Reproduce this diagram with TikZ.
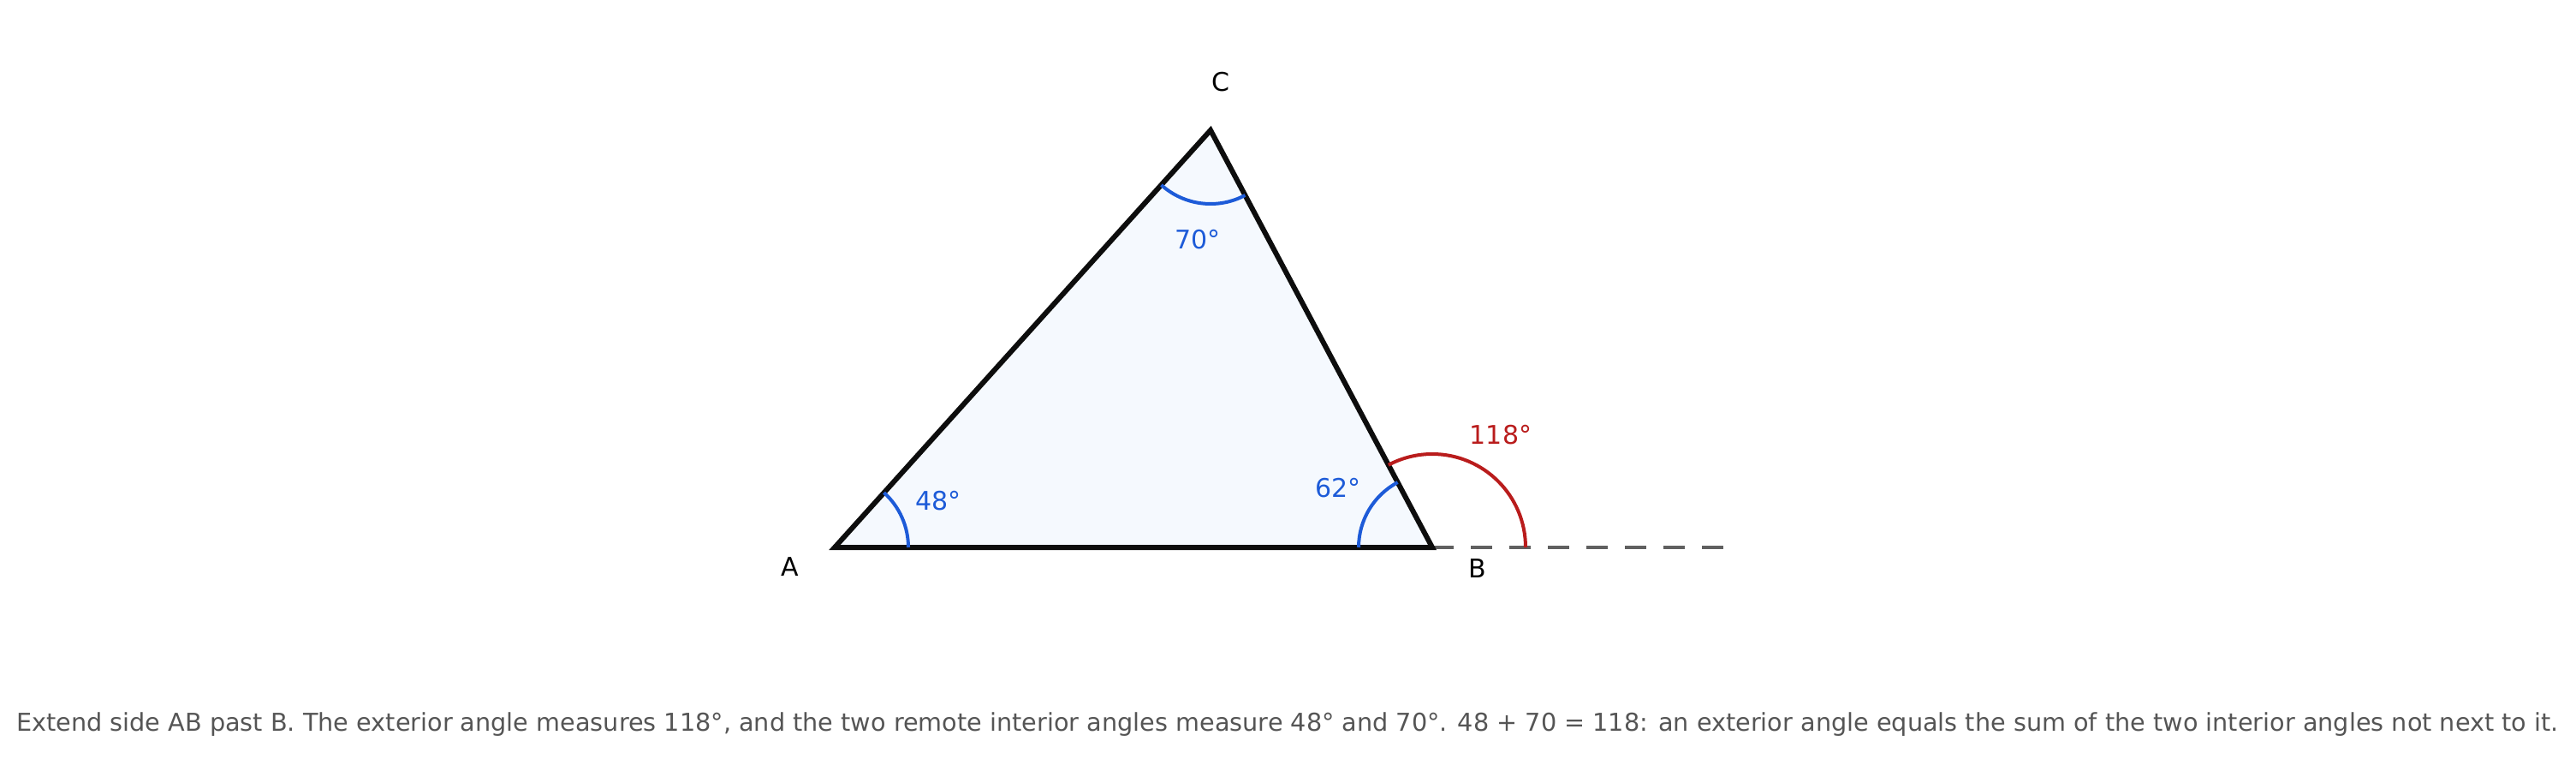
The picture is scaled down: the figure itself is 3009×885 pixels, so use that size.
\documentclass[tikz,border=0pt]{standalone}
\usepackage{fontspec}
\setmainfont{DejaVu Sans}
\definecolor{angblue}{HTML}{1D5BD8}
\definecolor{extred}{HTML}{B91C1C}
\definecolor{trifill}{HTML}{F5F9FE}
\definecolor{capgray}{HTML}{555555}
\definecolor{dashgray}{HTML}{606060}
\begin{document}
\begin{tikzpicture}[line cap=butt, line join=miter, x=0.5pt, y=0.5pt]

                \useasboundingbox (0,0) rectangle (3009,885);

                \coordinate (A) at (975,246);
                \coordinate (B) at (1673,246);
                \coordinate (C) at (1414,733);
                \coordinate (E) at (2015,246);

                \fill[trifill] (A) -- (B) -- (C) -- cycle;
                \draw[dashgray, line width=2pt, dash pattern=on 12.5pt off 10pt] (B) -- (E);
                \draw[black!95, line width=3pt] (A) -- (B) -- (C) -- cycle;

                \draw[angblue, line width=2pt] ([shift={(0:86)}]A) arc[start angle=0, end angle=48, radius=86];
                \draw[angblue, line width=2pt] ([shift={(228:86)}]C) arc[start angle=228, end angle=298, radius=86];
                \draw[angblue, line width=2pt] ([shift={(118:86)}]B) arc[start angle=118, end angle=180, radius=86];
                \draw[extred, line width=2pt] ([shift={(0:109)}]B) arc[start angle=0, end angle=118, radius=109];

                \node[font=\fontsize{15}{18}\selectfont] (labC) at (1426,789) {C};
                \node[font=\fontsize{15}{18}\selectfont] (labA) at (923,223) {A};
                \node[font=\fontsize{15}{18}\selectfont] (labB) at (1726,221) {B};

                \node[angblue, font=\fontsize{15}{18}\selectfont] (angC) at (1399,605) {70°};
                \node[angblue, font=\fontsize{15}{18}\selectfont] (angA) at (1096,300) {48°};
                \node[angblue, font=\fontsize{15}{18}\selectfont] (angB) at (1563,315) {62°};
                \node[extred, font=\fontsize{15}{18}\selectfont] (angE) at (1753,377) {118°};

                \node[capgray, font=\fontsize{14.35}{17}\selectfont] (cap) at (1504,39) {Extend side AB past B. The exterior angle measures 118°, and the two remote interior angles measure 48° and 70°. 48 + 70 = 118: an exterior angle equals the sum of the two interior angles not next to it.};

            \end{tikzpicture}
\end{document}
